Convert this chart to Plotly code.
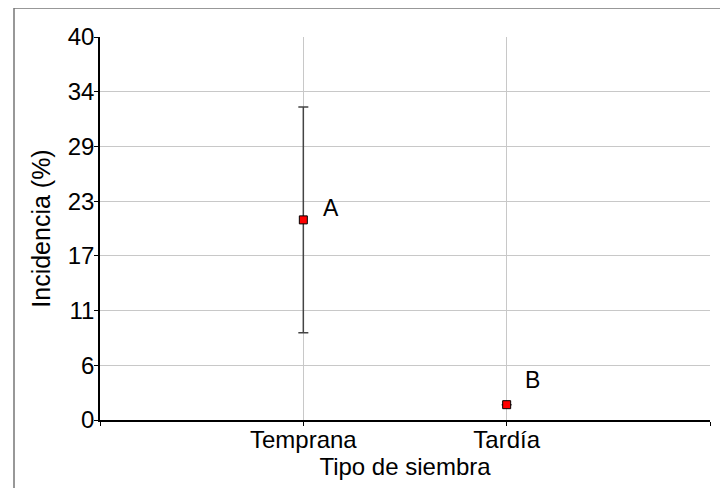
import plotly.graph_objects as go

categories = ["Temprana", "Tardía"]
incidence = [20.9, 1.6]
error = [11.8, 0.0]
letters = ["A", "B"]
y_tick_values = [0, 40/7, 80/7, 120/7, 160/7, 200/7, 240/7, 40]
y_tick_labels = ["0", "6", "11", "17", "23", "29", "34", "40"]

x_pos = list(range(1, len(categories) + 1))

FONT = "Liberation Sans, Arial, sans-serif"

fig = go.Figure()
fig.add_trace(go.Scatter(
    x=x_pos, y=incidence, mode="markers",
    marker=dict(symbol="square", size=8, color="#ff0000",
                line=dict(color="#000000", width=1)),
    error_y=dict(type="data", array=error, visible=True,
                 color="#444444", thickness=1.5, width=5),
    showlegend=False, hoverinfo="skip",
))

shifts = [(28, 12), (26, 25)]
for xi, yi, lab, (dx, dy) in zip(x_pos, incidence, letters, shifts):
    fig.add_annotation(x=xi, y=yi, text=lab, showarrow=False,
                       xshift=dx, yshift=dy,
                       font=dict(family=FONT, size=23, color="#000"))

fig.update_layout(
    width=720, height=480,
    margin=dict(l=92, r=18, t=29, b=68, autoexpand=False),
    paper_bgcolor="white", plot_bgcolor="white",
    font=dict(family=FONT, color="#000"),
    xaxis=dict(
        range=[0, len(categories) + 1],
        tickvals=[0] + x_pos + [len(categories) + 1],
        ticktext=[""] + categories + [""],
        showgrid=True, gridcolor="#c8c8c8", gridwidth=1,
        showline=True, linecolor="#000", linewidth=1.5,
        ticks="outside", ticklen=4, tickcolor="#000",
        tickfont=dict(size=24), ticklabelstandoff=-7,
        title=dict(text="Tipo de siembra", font=dict(size=24), standoff=6),
        zeroline=False, fixedrange=True, automargin=False,
    ),
    yaxis=dict(
        range=[0, 40],
        tickvals=y_tick_values, ticktext=y_tick_labels,
        showgrid=True, gridcolor="#c8c8c8", gridwidth=1,
        showline=True, linecolor="#000", linewidth=1.5,
        ticks="outside", ticklen=4, tickcolor="#000",
        tickfont=dict(size=24), ticklabelstandoff=-5,
        title=dict(text="Incidencia (%)", font=dict(size=25), standoff=10),
        zeroline=False, fixedrange=True, automargin=False,
    ),
)

# outer frame (cropped at right and bottom in the reference)
fig.add_shape(type="rect", xref="paper", yref="paper",
              x0=(14 - 100) / 610, x1=1.2, y0=-0.5, y1=1 + (37 - 8) / 383,
              line=dict(color="#777777", width=1.5), fillcolor="rgba(0,0,0,0)",
              layer="below")

fig.write_html("out.html")
